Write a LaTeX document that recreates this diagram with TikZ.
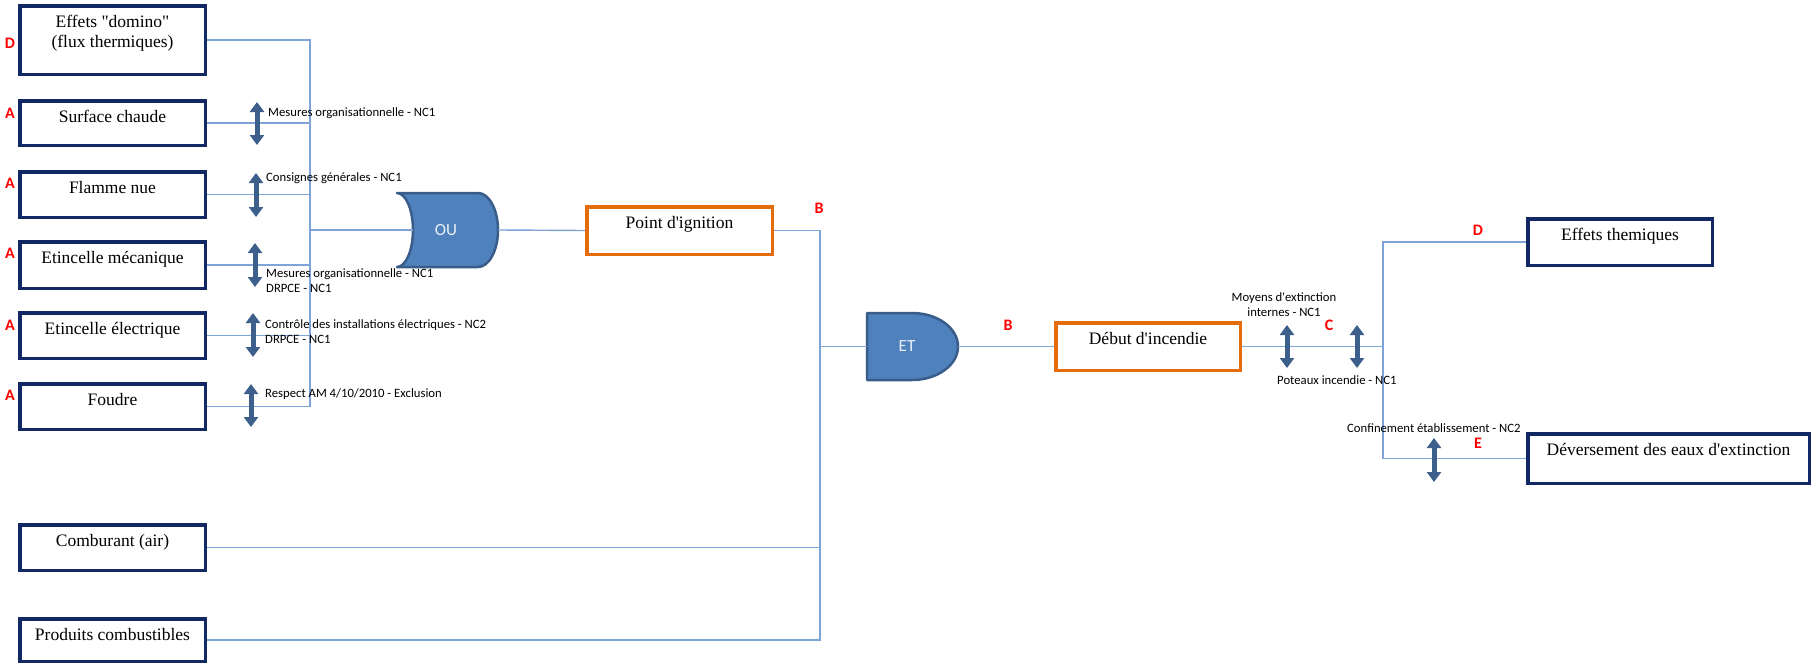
\documentclass[tikz,border=0pt]{standalone}
\usepackage{fontspec}
\setmainfont{Liberation Serif}[Ligatures=TeXOff]
\newfontfamily\labfont{Carlito}[Ligatures=TeXOff]
\usetikzlibrary{arrows.meta}
\definecolor{navy}{RGB}{17,40,100}
\definecolor{orng}{RGB}{228,108,10}
\definecolor{connc}{RGB}{125,163,215}
\definecolor{gatefill}{RGB}{79,129,189}
\definecolor{gateline}{RGB}{56,93,138}
\definecolor{arrowc}{RGB}{60,95,140}
\definecolor{redl}{RGB}{255,0,0}
\definecolor{gatetext}{RGB}{236,241,248}
\tikzset{
  bx/.style={draw=navy, line width=3.5pt, inner sep=0pt, minimum width=185.5pt,
    font=\fontsize{17.5}{20}\selectfont, text height=12pt},
  obx/.style={bx, draw=orng},
  conn/.style={draw=connc, line width=1.4pt},
  gate/.style={fill=gatefill, draw=gateline, line width=2.5pt, line join=round},
  gtxt/.style={inner sep=0pt, text=gatetext, font=\labfont\fontsize{17}{17}\selectfont},
  dbl/.style={draw=arrowc, line width=5pt, <->, >={Triangle[width=14pt,length=10pt]}},
  lab/.style={inner sep=0pt, font=\labfont\fontsize{12.7}{15}\selectfont},
  redlet/.style={inner sep=0pt, text=redl, font=\labfont\bfseries\fontsize{16}{16}\selectfont}
}
\begin{document}
\begin{tikzpicture}[x=1pt, y=-1pt]
\fill[white] (0,0) rectangle (1812,664);
\useasboundingbox (0,0) rectangle (1812,664);

% left boxes
\node[bx, minimum height=68.5pt, align=center, text height=34pt, text depth=20pt] (dom) at (112.5,40) {Effets "domino"\\(flux thermiques)};
\node[bx, minimum height=44.5pt, text depth=14pt] (sc) at (112.5,123) {Surface chaude};
\node[bx, minimum height=45.5pt, text depth=15pt] (fn) at (112.5,194.5) {Flamme nue};
\node[bx, minimum height=46.5pt, text depth=16pt] (em) at (112.5,265) {Etincelle mécanique};
\node[bx, minimum height=45.5pt, text depth=15pt] (ee) at (112.5,335.5) {Etincelle électrique};
\node[bx, minimum height=45.5pt, text depth=15pt] (fo) at (112.5,406.5) {Foudre};
\node[bx, minimum height=45.5pt, text depth=15pt] (cb) at (112.5,547.5) {Comburant (air)};
\node[bx, minimum height=42.5pt, text depth=12pt] (pc) at (112.5,640) {Produits combustibles};

% middle / right boxes
\node[obx, minimum height=47.5pt, text depth=17pt] (pi) at (679.5,230.5) {Point d'ignition};
\node[obx, minimum width=184.5pt, minimum height=47.5pt, text depth=17pt] (di) at (1148,346.5) {Début d'incendie};
\node[bx, minimum width=184.5pt, minimum height=46.5pt, text depth=16pt] (eth) at (1620,242) {Effets themiques};
\node[bx, minimum width=281.5pt, minimum height=49.5pt, text depth=19pt] (de) at (1668.5,458.5) {Déversement des eaux d'extinction};

% OR gate
\draw[gate] (397,193) -- (478,193)
  .. controls (489,193) and (498,209.6) .. (498,230)
  .. controls (498,250.4) and (489,267) .. (478,267)
  -- (397,267)
  .. controls (405.8,267) and (413,250.4) .. (413,230)
  .. controls (413,209.6) and (405.8,193) .. cycle;
\node[gtxt] (ou) at (446,230) {OU};
\coordinate (ouIn) at (413,230);
\coordinate (ouOut) at (498,230);

% AND gate
\draw[gate] (867,313) -- (912,313)
  .. controls (937.4,313) and (958,328) .. (958,346.5)
  .. controls (958,365) and (937.4,380) .. (912,380)
  -- (867,380) -- cycle;
\node[gtxt] (etg) at (907,346.5) {ET};
\coordinate (etIn) at (867,346.5);
\coordinate (etOut) at (958,346.5);

% bus coordinates
\coordinate (busA) at (310,0);
\coordinate (busB) at (820,0);
\coordinate (busC) at (1383,0);

% connectors
\draw[conn] (dom.east) -- (dom.east -| busA) -- (fo.east -| busA) -- (fo.east);
\draw[conn] (sc.east) -- (sc.east -| busA);
\draw[conn] (fn.east) -- (fn.east -| busA);
\draw[conn] (em.east) -- (em.east -| busA);
\draw[conn] (ee.east) -- (ee.east -| busA);
\draw[conn] (ouIn -| busA) -- (ouIn);
\draw[conn] (ouOut) -- (pi.west);
\draw[conn] (pi.east) -- (pi.east -| busB) -- (pc.east -| busB) -- (pc.east);
\draw[conn] (cb.east) -- (cb.east -| busB);
\draw[conn] (etIn -| busB) -- (etIn);
\draw[conn] (etOut) -- (di.west);
\draw[conn] (di.east) -- (di.east -| busC);
\draw[conn] (eth.west) -- (eth.west -| busC) -- (de.west -| busC) -- (de.west);

% double arrows
\draw[dbl] (257,102) -- (257,145);
\draw[dbl] (256,173) -- (256,217);
\draw[dbl] (255,243) -- (255,287);
\draw[dbl] (253,313) -- (253,357);
\draw[dbl] (251,384) -- (251,427);
\draw[dbl] (1287,325) -- (1287,368);
\draw[dbl] (1357,325) -- (1357,368);
\draw[dbl] (1434,438) -- (1434,482);

% labels
\node[lab, anchor=west] (l1) at (268,113) {Mesures organisationnelle - NC1};
\node[lab, anchor=west] (l2) at (266,178) {Consignes générales - NC1};
\node[lab, anchor=west, align=left] (l3) at (266,280.5) {Mesures organisationnelle - NC1\\DRPCE - NC1};
\node[lab, anchor=west, align=left] (l4) at (265,332) {Contrôle des installations électriques - NC2\\DRPCE - NC1};
\node[lab, anchor=west] (l5) at (265,394) {Respect AM 4/10/2010 - Exclusion};
\node[lab, align=center] (l6) at (1284,304.5) {Moyens d'extinction\\internes - NC1};
\node[lab, anchor=west] (l7) at (1277,380) {Poteaux incendie - NC1};
\node[lab, anchor=west] (l8) at (1347,428) {Confinement établissement - NC2};

% red letters
\node[redlet] (rD1) at (10,43) {D};
\node[redlet] (rA1) at (10,113) {A};
\node[redlet] (rA2) at (10,183) {A};
\node[redlet] (rA3) at (10,253) {A};
\node[redlet] (rA4) at (10,325) {A};
\node[redlet] (rA5) at (10,395) {A};
\node[redlet] (rB1) at (819,208) {B};
\node[redlet] (rB2) at (1008,325) {B};
\node[redlet] (rC) at (1329,325) {C};
\node[redlet] (rD2) at (1478,230) {D};
\node[redlet] (rE) at (1478,443) {E};
\end{tikzpicture}
\end{document}
